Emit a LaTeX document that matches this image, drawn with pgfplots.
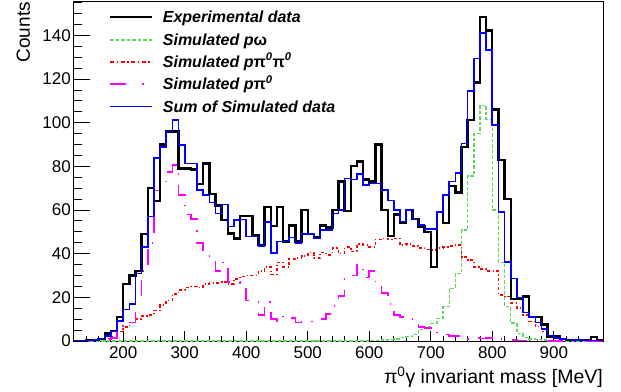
\documentclass[border=0pt]{standalone}
\usepackage{fontspec}
\setmainfont{Liberation Sans}
\usepackage{pgfplots}
\usepackage{pgfplotstable}
\pgfplotsset{compat=1.18}
\definecolor{hgreen}{RGB}{95,215,95}
\definecolor{hred}{RGB}{255,0,0}
\definecolor{hmag}{RGB}{255,0,255}
\definecolor{hblue}{RGB}{0,0,255}

\pgfplotstableread{
E black blue green red magenta
120 0 0.3 0 0 0
130 0 0.3 0 0 0
140 0.5 0.3 0 0 0
150 0.5 0.5 0 0.3 0
160 1 1.2 0 0.7 0.5
170 3.4 2.4 0 1.2 1
180 4.6 4.3 0 2 1.5
190 11 9.2 0 4.3 4.5
200 26 14.5 0 6.3 8
210 30 17 0 8.5 8.5
220 32 31 0 10 21
230 49 43.2 0 11.5 32
240 70 57 0 12 45
250 64 83.7 0 14 69
260 90 89 0 16.5 73
270 96 95.9 0 18.5 77.5
280 96 101.2 0 21.5 80.5
290 79 89.8 0 23.5 67
300 79 81.4 0 24.5 58
310 78.5 81.4 0 25 56
320 72 69.2 0 24.5 45
330 81.4 67 0 26 41
340 67.4 63.4 0 26.5 37
350 62 58.5 0 26.5 32
360 55.3 62.6 0 27 36
370 49.3 52.4 0 26 27
380 47 55.4 0 28.5 27
390 57.3 55.7 0 29.5 24
400 57.3 47.8 0 30 18.5
410 48.5 47.8 0 30 18
420 44 43.5 0 32 12
430 61.3 54.5 0 34 18
440 52.8 40.3 0 30.5 10
450 61.3 45.5 0 36 9
460 45.6 45.5 0 34 11.5
470 53 47.5 0 37.5 10.5
480 45.6 45 0 38 8.5
490 60 49 0 39 9
500 49 49 0 40.5 9
510 47.7 47 0 38 9.5
520 53 50.8 0 40.5 10
530 52 50.8 0 39.5 12.5
540 60 58.5 0 42.5 16
550 73 60 0 40 20.5
560 59.5 74.5 0 43 29
570 80.3 74 0 41 30
580 82.2 76.5 0 44.5 35
590 74 71.5 0 44 29
600 73 72.2 0.2 43 32
610 90 72.2 0.3 46.5 25
620 60 69.2 0.5 47 22
630 48 64.3 0.8 46.5 17
640 58 60 1 47 12
650 54 54.7 1.5 44 11
660 60 60 2 44.5 10
670 56 55.7 3 43.5 8
680 52.5 53.1 5.3 42.6 6.5
690 50 51.2 6.6 42 6
700 34 51.2 8.1 41.7 4.5
710 59 59 10.4 42.6 3.5
720 54 67 15.7 43 3
730 71 73 24.1 43.5 2.3
740 68 77 31 44 2.2
750 89 90.5 50.8 38.5 1.5
760 101.2 114.5 75.5 37 1
770 118.5 129.5 95 34 1.5
780 148.3 141 108 33 1.2
790 142.3 133.3 101.5 32 1.5
800 106 99 60 32 1.5
810 83 59 36 21 0.8
820 65 36.3 15.7 20.3 0.5
830 19.3 28.7 8.2 17.3 0.4
840 19.3 20 3.5 15 0.3
850 20.3 13 1.7 12 0.3
860 11 11 1 9 0.5
870 11 8.5 0.6 6.6 0.5
880 7.5 5.5 0.4 4.3 0.2
890 2 2.5 0.3 2.3 0
900 2 1.5 0.2 1.5 0
910 1 1 0 1 0
920 0.5 0.7 0 0.6 0
930 0.5 0.5 0 0.4 0
940 0.5 0.5 0 0.3 0
950 0.5 0.3 0 0.2 0
960 1.8 0.3 0 0.2 0
970 0.5 0.2 0 0 0
980 0.5 0.2 0 0 0
}\histdata

\begin{document}
\begin{tikzpicture}
\useasboundingbox (0,0) rectangle (621pt,391pt);
\begin{axis}[
  at={(74pt,50pt)}, anchor=south west,
  scale only axis, width=529pt, height=339pt,
  xmin=120, xmax=980, ymin=0, ymax=155.3,
  xtick={200,300,...,900}, minor xtick={140,160,...,960},
  ytick={0,20,...,140}, minor ytick={5,10,...,155},
  tick pos=left, tick align=inside,
  x tick style={/pgfplots/major tick length=10pt, /pgfplots/minor tick length=5pt, line width=0.9pt, black},
  y tick style={/pgfplots/major tick length=16pt, /pgfplots/minor tick length=8pt, line width=0.9pt, black},
  axis line style={line width=1pt},
  /pgf/number format/assume math mode=true,
  ticklabel style={font=\fontsize{17}{20}\selectfont},
  yticklabel style={inner sep=0pt, xshift=-3pt},
  xticklabel style={inner sep=0pt, yshift=-5pt},
  xlabel={π\textsuperscript{0}γ invariant mass [MeV]},
  ylabel={Counts},
  x label style={at={(axis description cs:1,-0.1268)}, anchor=base east, inner sep=0pt, font=\fontsize{19.5}{22}\selectfont},
  y label style={at={(axis description cs:-0.0832,1)}, anchor=base east, inner sep=0pt, font=\fontsize{19}{22}\selectfont},
  clip=true,
]
\addplot[const plot mark left, no marks, draw=hgreen, line width=1.4pt, dash pattern=on 3.5pt off 2pt] table[x=E, y=green] {\histdata};
\addplot[const plot mark left, no marks, draw=hred, line width=1.6pt, dash pattern=on 3pt off 2.5pt on 1.2pt off 2.5pt] table[x=E, y=red] {\histdata};
\addplot[const plot mark left, no marks, draw=hmag, line width=1.6pt, dash pattern=on 16pt off 10pt on 1.5pt off 10pt] table[x=E, y=magenta] {\histdata};
\addplot[const plot mark left, no marks, draw=black, line width=2.4pt] table[x=E, y=black] {\histdata};
\addplot[const plot mark left, no marks, draw=hblue, line width=1.6pt] table[x=E, y=blue] {\histdata};
\end{axis}
% legend
\draw[draw=black, line width=2.4pt] (110pt,373.7pt) -- (152pt,373.7pt);
\draw[draw=hgreen, line width=1.4pt, dash pattern=on 3.5pt off 2pt] (110pt,351pt) -- (152pt,351pt);
\draw[draw=hred, line width=1.8pt, dash pattern=on 4pt off 2.5pt on 1.5pt off 2.5pt] (110pt,329.3pt) -- (152pt,329.3pt);
\draw[draw=hmag, line width=1.6pt, dash pattern=on 16pt off 16pt on 1.5pt off 10pt] (110pt,306.7pt) -- (152pt,306.7pt);
\draw[draw=hblue, line width=1.6pt] (110pt,284.3pt) -- (152pt,284.3pt);
\begin{scope}[every node/.style={anchor=base west, inner sep=0pt, font=\bfseries\itshape\fontsize{16}{19}\selectfont}]
\node at (162.7pt,368.3pt) {Experimental data};
\node at (162.7pt,345.6pt) {Simulated p{\upshape ω}};
\node at (162.7pt,323.9pt) {Simulated p{\upshape π}\textsuperscript{0}{\upshape π}\textsuperscript{0}};
\node at (162.7pt,301.3pt) {Simulated p{\upshape π}\textsuperscript{0}};
\node at (162.7pt,278.9pt) {Sum of Simulated data};
\end{scope}
\end{tikzpicture}
\end{document}
